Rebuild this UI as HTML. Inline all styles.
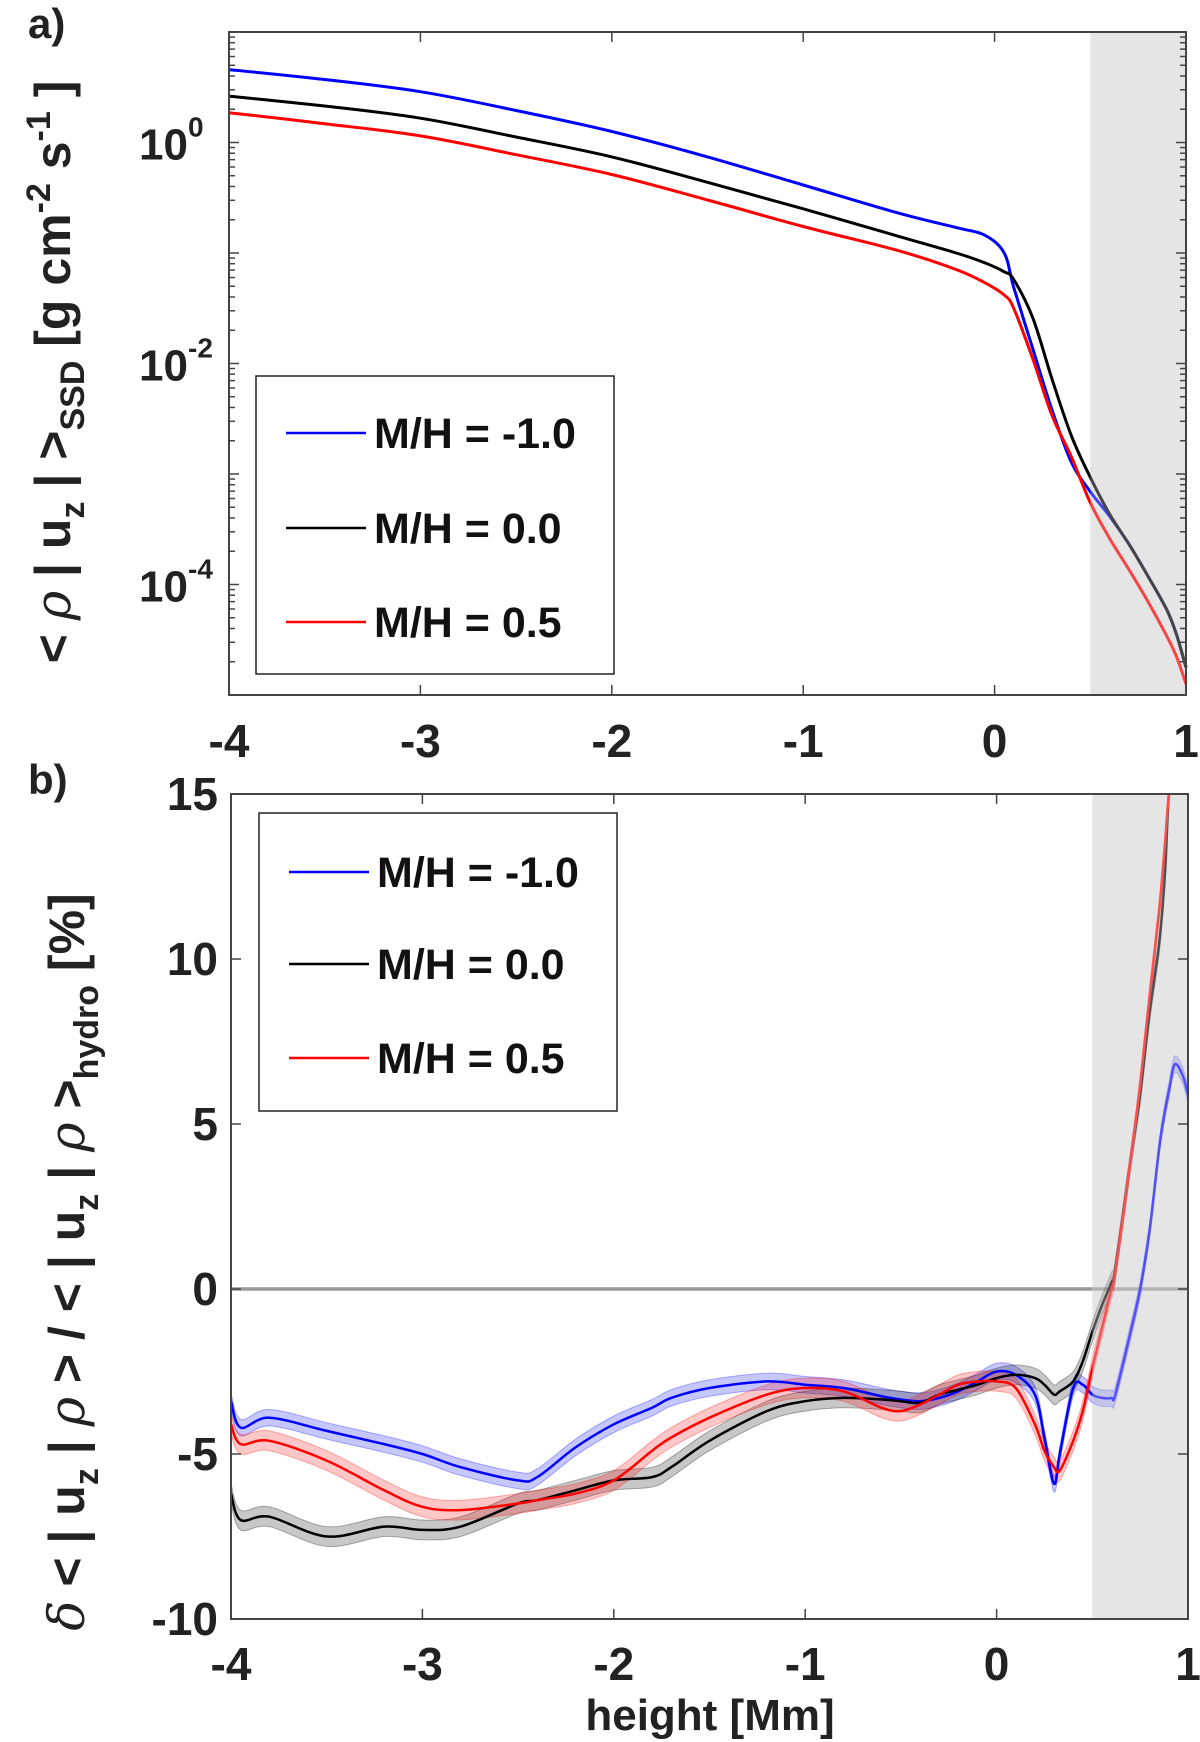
<!DOCTYPE html>
<html><head><meta charset="utf-8"><style>
html,body{margin:0;padding:0;background:#fff;}
svg{display:block;font-family:"Liberation Sans",Arial,sans-serif;font-weight:bold;}
</style></head><body>
<svg id="fig" width="1200" height="1742" viewBox="0 0 1200 1742" xmlns="http://www.w3.org/2000/svg">
<g id="pa"></g>
<g id="pb"></g>
</svg>
<script>
// ---- data ----
const seriesNames = ["M/H = -1.0","M/H = 0.0","M/H = 0.5"];
const seriesColors = ["#0000ff","#000000","#ff0000"];
// panel a: log10 of <rho|uz|>
const aX = [-4,-3.5,-3,-2.5,-2,-1.5,-1,-0.5,-0.2,-0.05,0.05,0.1,0.2,0.3,0.4,0.5,0.6,0.7,0.8,0.9,0.95,1.0];
const aBlue  = [0.66,0.57,0.46,0.29,0.10,-0.13,-0.385,-0.64,-0.77,-0.84,-1.0,-1.31,-1.87,-2.42,-2.89,-3.16,-3.38,-3.63,-3.92,-4.23,-4.45,-4.75];
const aBlack = [0.42,0.33,0.22,0.05,-0.13,-0.36,-0.60,-0.85,-1.00,-1.09,-1.17,-1.24,-1.59,-2.14,-2.65,-3.03,-3.36,-3.63,-3.92,-4.23,-4.45,-4.75];
const aRed   = [0.27,0.17,0.06,-0.11,-0.29,-0.52,-0.76,-0.98,-1.15,-1.27,-1.38,-1.50,-1.96,-2.47,-2.84,-3.26,-3.58,-3.86,-4.15,-4.47,-4.65,-4.90];
const aTicksX = [-4,-3,-2,-1,0,1];
const aTicksY = [0,-2,-4];
// panel b: delta percent
const bX = [-4,-3.95,-3.8,-3.5,-3.2,-3,-2.8,-2.5,-2.4,-2.2,-2,-1.8,-1.7,-1.5,-1.2,-1,-0.8,-0.6,-0.5,-0.4,-0.3,-0.2,-0.1,0,0.1,0.2,0.25,0.3,0.33,0.4,0.45,0.5,0.55,0.6,0.62,0.7,0.75,0.8,0.85,0.88,0.9,0.93,0.97,1.0];
const bBlue  = [-3.4,-4.2,-3.9,-4.3,-4.7,-5.0,-5.4,-5.8,-5.7,-4.8,-4.1,-3.6,-3.3,-3.0,-2.8,-2.9,-3.0,-3.25,-3.35,-3.4,-3.3,-3.1,-2.8,-2.5,-2.6,-3.2,-4.5,-5.9,-5.0,-3.0,-2.9,-3.2,-3.3,-3.3,-3.2,-1.3,0,1.8,4.3,5.4,6.0,6.8,6.5,5.9];
const bBlack = [-6.2,-7.0,-6.9,-7.5,-7.2,-7.3,-7.2,-6.5,-6.4,-6.1,-5.8,-5.7,-5.4,-4.6,-3.7,-3.4,-3.3,-3.35,-3.4,-3.45,-3.2,-3.05,-2.9,-2.7,-2.6,-2.7,-2.9,-3.2,-3.1,-2.8,-2.2,-1.3,-0.5,0.2,0.6,3.9,5.9,8.4,10.5,12.6,15,16,16,16];
const bRed   = [-4.1,-4.7,-4.6,-5.2,-6.1,-6.6,-6.7,-6.5,-6.4,-6.2,-5.8,-4.9,-4.5,-3.9,-3.2,-3.0,-3.1,-3.6,-3.7,-3.5,-3.2,-2.9,-2.8,-2.8,-3.0,-4.1,-4.9,-5.4,-5.5,-4.6,-3.7,-2.4,-1.2,0,0.5,3.9,6.2,8.9,11.5,13.5,15,16,16,16];
const bBand = [0.25,0.3,0.3];
const bTicksX = [-4,-3,-2,-1,0,1];
const bTicksY = [15,10,5,0,-5,-10];

const NS="http://www.w3.org/2000/svg";
function mk(parent,tag,attrs,text){const e=document.createElementNS(NS,tag);for(const k in attrs)e.setAttribute(k,attrs[k]);if(text!==undefined)e.textContent=text;parent.appendChild(e);return e;}
function smooth(P,start){
  let d=start?('M'+P[0][0].toFixed(1)+','+P[0][1].toFixed(1)):('L'+P[0][0].toFixed(1)+','+P[0][1].toFixed(1));
  for(let i=0;i<P.length-1;i++){
    const p0=P[Math.max(0,i-1)],p1=P[i],p2=P[i+1],p3=P[Math.min(P.length-1,i+2)];
    const c1=[p1[0]+(p2[0]-p0[0])/6,p1[1]+(p2[1]-p0[1])/6];
    const c2=[p2[0]-(p3[0]-p1[0])/6,p2[1]-(p3[1]-p1[1])/6];
    d+=' C'+c1.map(v=>v.toFixed(1)).join(',')+' '+c2.map(v=>v.toFixed(1)).join(',')+' '+p2.map(v=>v.toFixed(1)).join(',');
  }
  return d;
}

// ---- panel a ----
const A={l:229,r:1186,t:32,b:695,x0:-4,x1:1,y0:-5,y1:1};
const ax=v=>A.l+(v-A.x0)/(A.x1-A.x0)*(A.r-A.l);
const ay=v=>A.b-(v-A.y0)/(A.y1-A.y0)*(A.b-A.t);
const pa=document.getElementById('pa');
let r=mk(pa,'rect',{x:ax(0.5),y:A.t,width:A.r-ax(0.5),height:A.b-A.t,fill:'#e5e5e5'});


[aBlue,aBlack,aRed].forEach((s,i)=>{
  const P=aX.map((x,j)=>[ax(x),ay(s[j])]);
  const gl=mk(pa,'path',{d:smooth(P,true),fill:'none',stroke:seriesColors[i],'stroke-width':3,'stroke-linejoin':'round'});
  
  
});
mk(pa,'rect',{x:ax(0.5),y:A.t,width:A.r-ax(0.5),height:A.b-A.t,fill:'#e5e5e5','fill-opacity':0.3});
let bx=mk(pa,'rect',{x:A.l,y:A.t,width:A.r-A.l,height:A.b-A.t,fill:'none',stroke:'#444','stroke-width':2});


for(let d=-5;d<1;d++){for(let m=1;m<10;m++){const v=d+Math.log10(m);const y=ay(v);const len=(m===1)?10:6;
 mk(pa,'line',{x1:A.l,x2:A.l+len,y1:y,y2:y,stroke:'#444','stroke-width':1.5});
 mk(pa,'line',{x1:A.r,x2:A.r-len,y1:y,y2:y,stroke:'#444','stroke-width':1.5});}}
aTicksX.forEach(v=>{const x=ax(v);
 mk(pa,'line',{x1:x,x2:x,y1:A.b,y2:A.b-10,stroke:'#444','stroke-width':1.5});
 mk(pa,'line',{x1:x,x2:x,y1:A.t,y2:A.t+10,stroke:'#444','stroke-width':1.5});
 const t=mk(pa,'text',{x:x,y:757,'font-size':46,'text-anchor':'middle',fill:'#222'},String(v));
 
 
});
aTicksY.forEach(v=>{const y=ay(v);
 const t=mk(pa,'text',{x:188,y:y+17,'font-size':44,'text-anchor':'end',fill:'#222'},'10');
 
 
 mk(pa,'text',{x:188,y:y-6,'font-size':28,'text-anchor':'start',fill:'#222'},String(v));
});
let lab=mk(pa,'text',{x:0,y:0,'font-size':50,'text-anchor':'middle',fill:'#222',transform:'translate(70,372) rotate(-90)'});


lab.innerHTML='&lt; <tspan font-style="italic" font-weight="normal" font-family="DejaVu Serif">ρ</tspan> | u<tspan font-size="34" dy="14">z</tspan><tspan dy="-14"> | &gt;</tspan><tspan font-size="34" dy="14">SSD</tspan><tspan dy="-14"> [g cm</tspan><tspan font-size="34" dy="-20">-2</tspan><tspan dy="20"> s</tspan><tspan font-size="34" dy="-20">-1</tspan><tspan dy="20"> ]</tspan>';
let pl=mk(pa,'text',{x:28,y:38,'font-size':42,fill:'#222'},'a)');


function legend(parent,x,y,w,h,ys,name){
 const g=mk(parent,'g',{});
 
 
 mk(g,'rect',{x:x,y:y,width:w,height:h,fill:'#fff',stroke:'#222','stroke-width':1.5});
 seriesNames.forEach((n,i)=>{
  const e=mk(g,'g',{});
  
  
  mk(e,'line',{x1:x+30,x2:x+110,y1:ys[i],y2:ys[i],stroke:seriesColors[i],'stroke-width':2.5});
  mk(e,'text',{x:x+118,y:ys[i]+15,'font-size':43,fill:'#111'},n);
 });
}
legend(pa,256,376,358,298,[433,528,622],'legend-a');

// ---- panel b ----
const B={l:231,r:1188,t:794,b:1619,x0:-4,x1:1,y0:-10,y1:15};
const bxs=v=>B.l+(v-B.x0)/(B.x1-B.x0)*(B.r-B.l);
const bys=v=>B.b-(v-B.y0)/(B.y1-B.y0)*(B.b-B.t);
const pb=document.getElementById('pb');
mk(pb,'defs',{}).innerHTML='<clipPath id="cb"><rect x="231" y="794" width="957" height="825"/></clipPath>';
r=mk(pb,'rect',{x:bxs(0.5),y:B.t,width:B.r-bxs(0.5),height:B.b-B.t,fill:'#e5e5e5'});


const zl=mk(pb,'line',{x1:B.l,x2:B.r,y1:bys(0),y2:bys(0),stroke:'#999','stroke-width':3.5});


const gc=mk(pb,'g',{'clip-path':'url(#cb)'});
[bBlue,bBlack,bRed].forEach((s,i)=>{
  const up=bX.map((x,j)=>[bxs(x),bys(s[j]+bBand[i])]);
  const dn=bX.map((x,j)=>[bxs(x),bys(s[j]-bBand[i])]).reverse();
  const band=mk(gc,'path',{d:smooth(up,true)+' '+smooth(dn,false)+' Z',fill:seriesColors[i],'fill-opacity':0.22,stroke:seriesColors[i],'stroke-opacity':0.3});
  
  
});
[bBlue,bBlack,bRed].forEach((s,i)=>{
  const P=bX.map((x,j)=>[bxs(x),bys(s[j])]);
  const gl=mk(gc,'path',{d:smooth(P,true),fill:'none',stroke:seriesColors[i],'stroke-width':2.5,'stroke-linejoin':'round'});
  
  
});
mk(gc,'rect',{x:bxs(0.5),y:B.t,width:B.r-bxs(0.5),height:B.b-B.t,fill:'#e5e5e5','fill-opacity':0.35});
bx=mk(pb,'rect',{x:B.l,y:B.t,width:B.r-B.l,height:B.b-B.t,fill:'none',stroke:'#444','stroke-width':2});


bTicksX.forEach(v=>{const x=bxs(v);
 mk(pb,'line',{x1:x,x2:x,y1:B.b,y2:B.b-10,stroke:'#444','stroke-width':1.5});
 mk(pb,'line',{x1:x,x2:x,y1:B.t,y2:B.t+10,stroke:'#444','stroke-width':1.5});
 const t=mk(pb,'text',{x:x,y:1680,'font-size':46,'text-anchor':'middle',fill:'#222'},String(v));
 
 
});
bTicksY.forEach(v=>{const y=bys(v);
 mk(pb,'line',{x1:B.l,x2:B.l+10,y1:y,y2:y,stroke:'#444','stroke-width':1.5});
 mk(pb,'line',{x1:B.r,x2:B.r-10,y1:y,y2:y,stroke:'#444','stroke-width':1.5});
 const t=mk(pb,'text',{x:218,y:y+16,'font-size':46,'text-anchor':'end',fill:'#222'},String(v));
 
 
});
const xt=mk(pb,'text',{x:710,y:1730,'font-size':44,'text-anchor':'middle',fill:'#222'},'height [Mm]');


lab=mk(pb,'text',{x:0,y:0,'font-size':50,'text-anchor':'middle',fill:'#222',transform:'translate(84,1262) rotate(-90)'});


lab.innerHTML='<tspan font-style="italic" font-weight="normal" font-family="DejaVu Serif">δ</tspan> &lt; | u<tspan font-size="34" dy="14">z</tspan><tspan dy="-14"> | </tspan><tspan font-style="italic" font-weight="normal" font-family="DejaVu Serif">ρ</tspan> &gt; / &lt; | u<tspan font-size="34" dy="14">z</tspan><tspan dy="-14"> | </tspan><tspan font-style="italic" font-weight="normal" font-family="DejaVu Serif">ρ</tspan> &gt;<tspan font-size="34" dy="14">hydro</tspan><tspan dy="-14"> [%]</tspan>';
pl=mk(pb,'text',{x:28,y:794,'font-size':42,fill:'#222'},'b)');


legend(pb,259,813,358,298,[872,964,1058],'legend-b');
</script>
</body></html>
